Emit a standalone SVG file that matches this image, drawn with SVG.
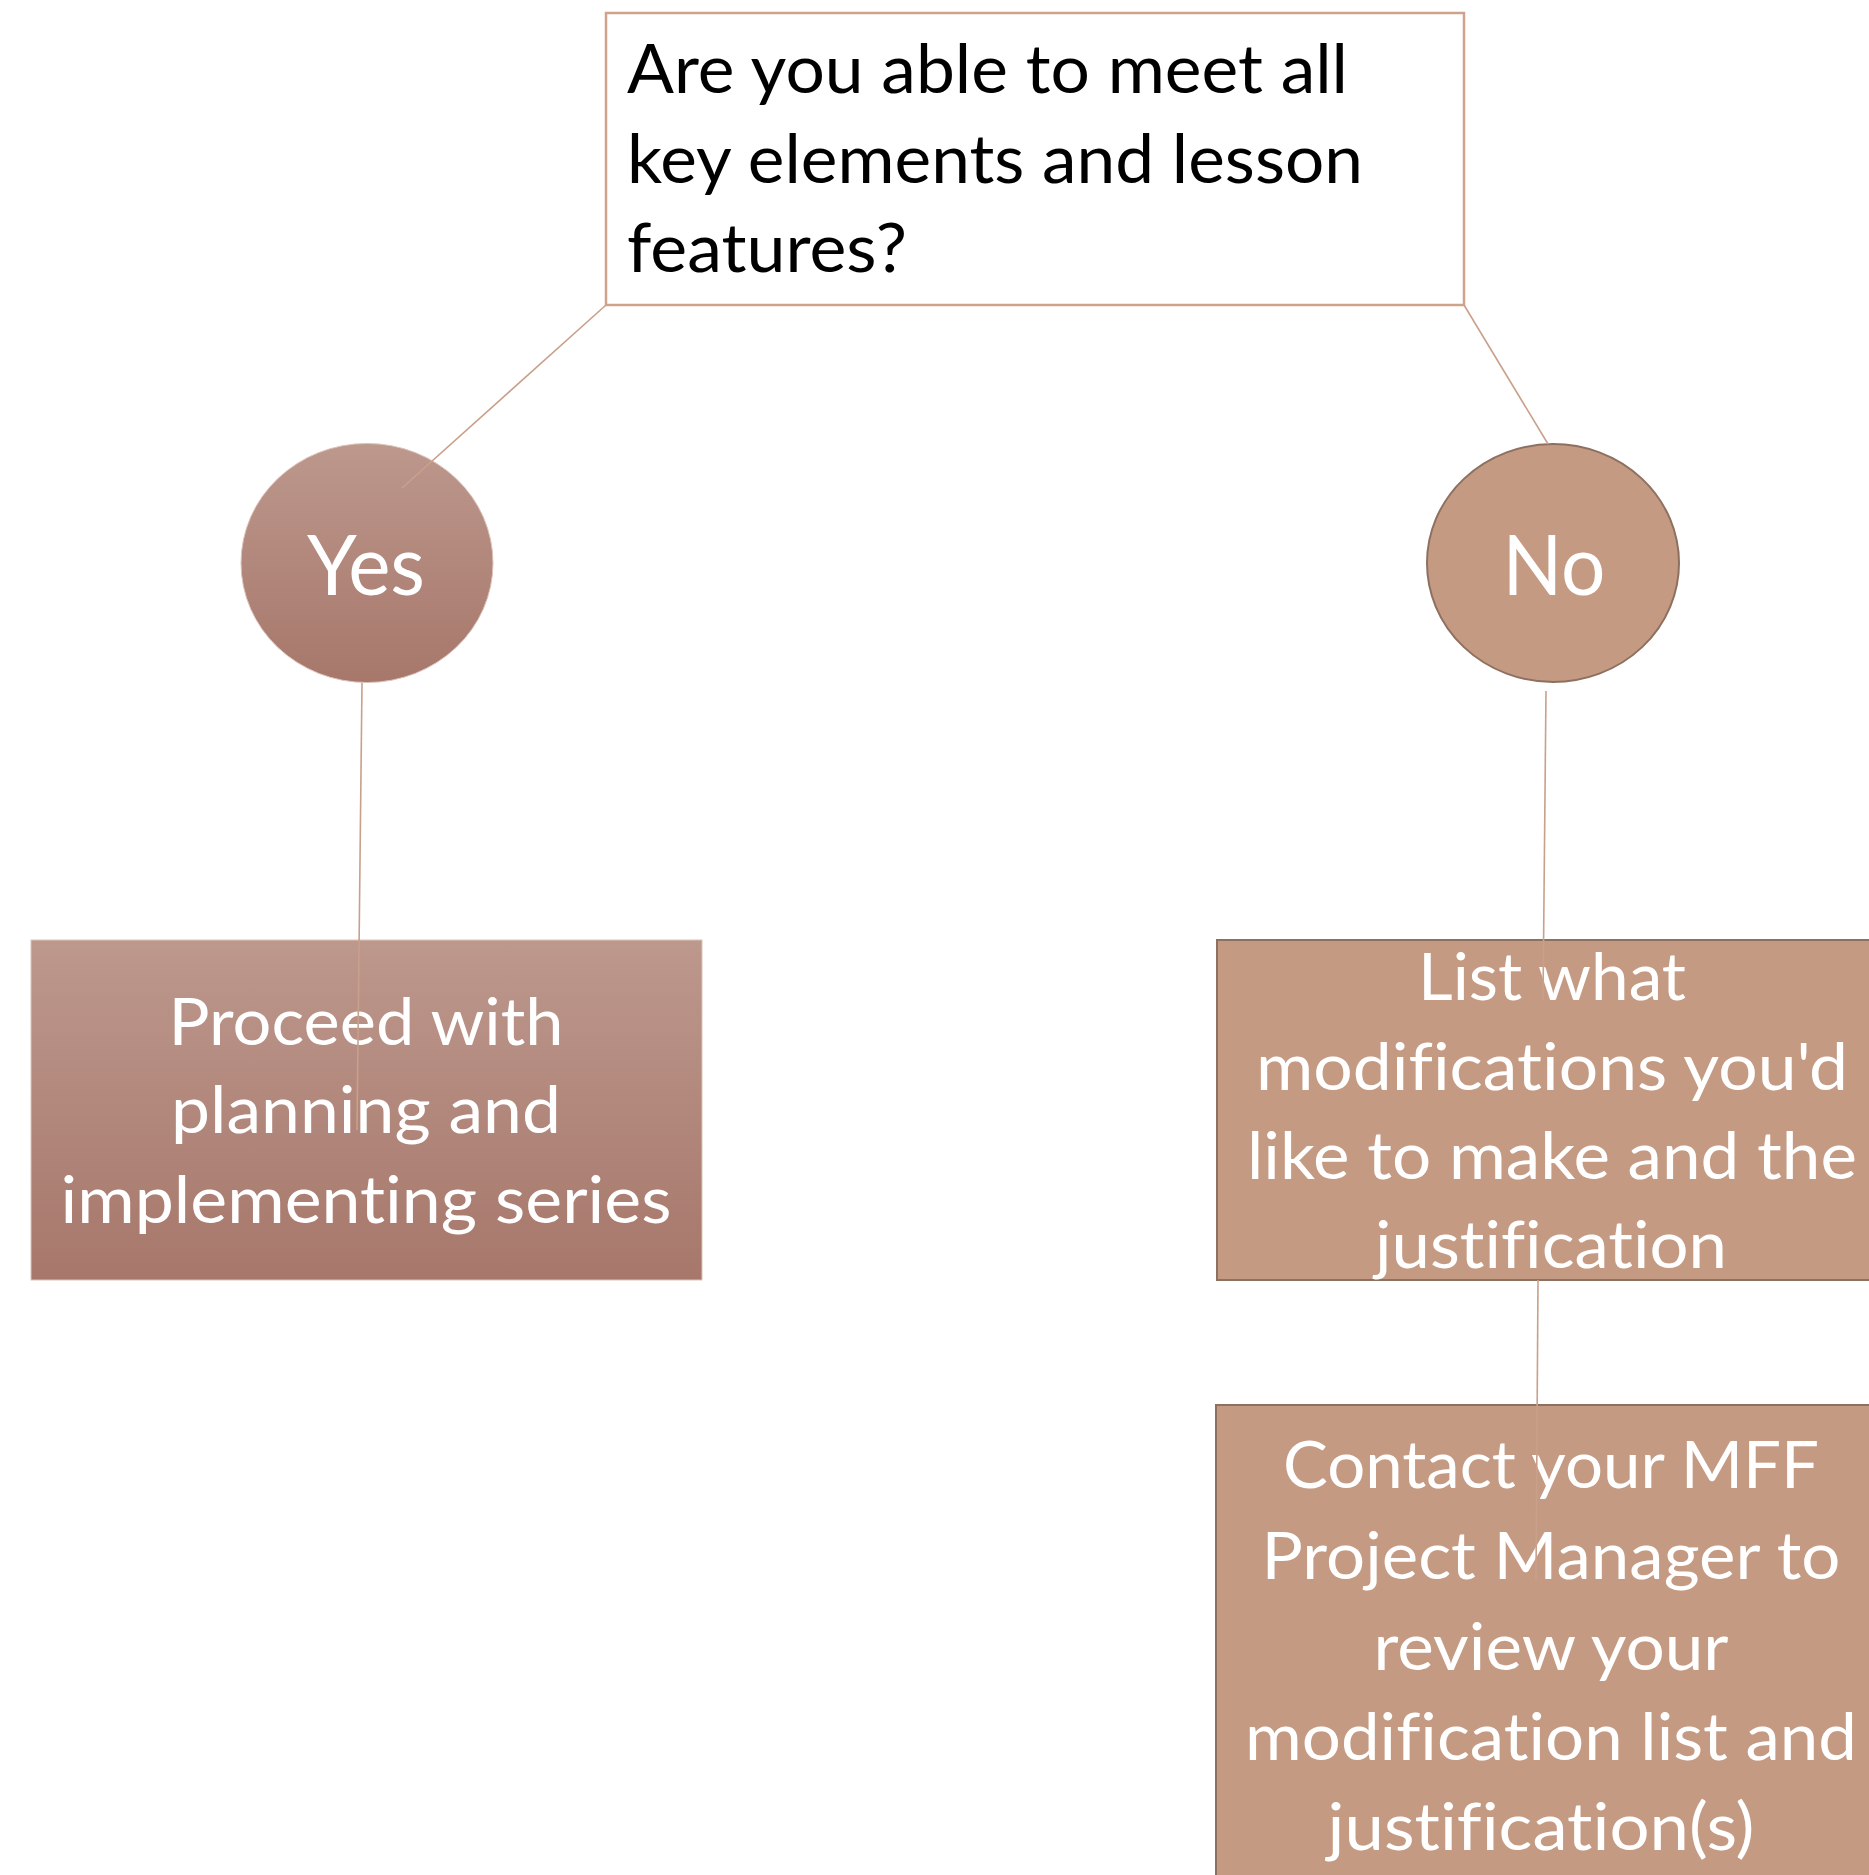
<svg xmlns="http://www.w3.org/2000/svg" width="1869" height="1875" viewBox="0 0 1869 1875">
<defs>
<linearGradient id="gRose" x1="0" y1="0" x2="0" y2="1">
<stop offset="0" stop-color="#bd988d"/>
<stop offset="1" stop-color="#a7776b"/>
</linearGradient>
<style>
.conn{stroke:#c9a08a;stroke-width:1.6;fill:none}
.q{fill:#ffffff;stroke:#cfa28c;stroke-width:2.5}
.rose{fill:url(#gRose);stroke:#dcc3ba;stroke-width:1}
.tan{fill:#c49a83;stroke:#8e7060;stroke-width:2}
text{font-variant-ligatures:none;font-feature-settings:"liga" 0,"clig" 0,"dlig" 0}
.tb{font-family:Lato,"Open Sans","Liberation Sans",sans-serif;font-size:67px;fill:#000000}
.tw{font-family:Lato,"Open Sans","Liberation Sans",sans-serif;font-size:65px;fill:#ffffff;text-anchor:middle}
.tl{font-family:Lato,"Open Sans","Liberation Sans",sans-serif;font-size:84px;fill:#ffffff;text-anchor:middle}
</style>
</defs>
<rect width="1869" height="1875" fill="#ffffff"/>

<g id="question">
<rect class="q" x="606" y="13" width="858" height="292"/>
<text class="tb" x="627" y="93" textLength="721" lengthAdjust="spacingAndGlyphs">Are you able to meet all</text>
<text class="tb" x="627" y="183" textLength="736" lengthAdjust="spacingAndGlyphs">key elements and lesson</text>
<text class="tb" x="627" y="272" textLength="280" lengthAdjust="spacingAndGlyphs">features?</text>
</g>

<g id="yes">
<ellipse class="rose" cx="367" cy="563" rx="126" ry="119.5"/>
<text class="tl" x="366" y="595" textLength="118" lengthAdjust="spacingAndGlyphs">Yes</text>
</g>

<g id="no">
<ellipse class="tan" cx="1553" cy="563" rx="126" ry="119"/>
<text class="tl" x="1554" y="595" textLength="103" lengthAdjust="spacingAndGlyphs">No</text>
</g>

<g id="proceed">
<rect class="rose" x="31" y="940" width="671" height="340"/>
<text class="tw" x="366" y="1045" textLength="395" lengthAdjust="spacingAndGlyphs">Proceed with</text>
<text class="tw" x="366" y="1133" textLength="390" lengthAdjust="spacingAndGlyphs">planning and</text>
<text class="tw" x="366" y="1223" textLength="611" lengthAdjust="spacingAndGlyphs">implementing series</text>
</g>

<g id="list">
<rect class="tan" x="1217" y="940" width="680" height="340"/>
<text class="tw" x="1552" y="1000" textLength="268" lengthAdjust="spacingAndGlyphs">List what</text>
<text class="tw" x="1552" y="1090" textLength="592" lengthAdjust="spacingAndGlyphs">modifications you'd</text>
<text class="tw" x="1552" y="1179" textLength="610" lengthAdjust="spacingAndGlyphs">like to make and the</text>
<text class="tw" x="1551" y="1268" textLength="352" lengthAdjust="spacingAndGlyphs">justification</text>
</g>

<g id="contact">
<rect class="tan" x="1216" y="1405" width="680" height="500"/>
<text class="tw" x="1551" y="1488" textLength="536" lengthAdjust="spacingAndGlyphs">Contact your MFF</text>
<text class="tw" x="1551" y="1579" textLength="579" lengthAdjust="spacingAndGlyphs">Project Manager to</text>
<text class="tw" x="1551" y="1670" textLength="355" lengthAdjust="spacingAndGlyphs">review your</text>
<text class="tw" x="1551" y="1760" textLength="612" lengthAdjust="spacingAndGlyphs">modification list and</text>
<text class="tw" x="1541" y="1850" textLength="427" lengthAdjust="spacingAndGlyphs">justification(s)</text>
</g>

<g id="connectors">
<line class="conn" x1="606" y1="305" x2="402" y2="488"/>
<line class="conn" x1="1464" y1="305" x2="1548" y2="444"/>
<line class="conn" x1="362" y1="683" x2="357" y2="1130"/>
<line class="conn" x1="1546" y1="691" x2="1543" y2="1000"/>
<line class="conn" x1="1538" y1="1280" x2="1536" y2="1580"/>
</g>
</svg>
